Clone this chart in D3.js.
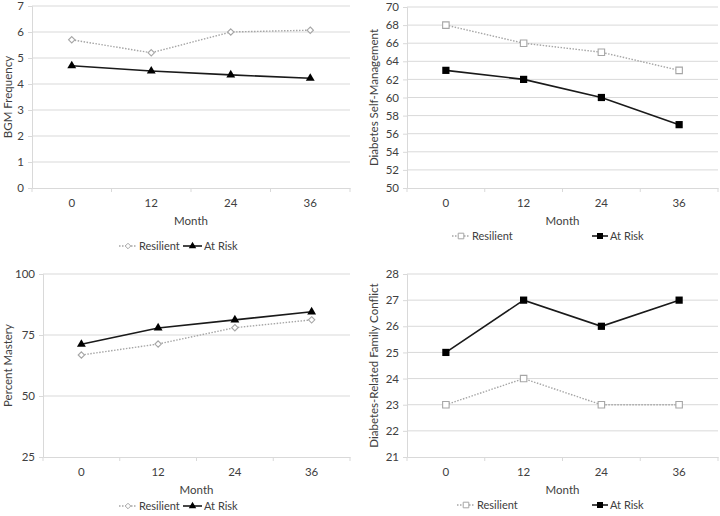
<!DOCTYPE html>
<html>
<head>
<meta charset="utf-8">
<script src="https://cdn.jsdelivr.net/npm/d3@7"></script>
<style>
html,body{margin:0;padding:0;background:#fff;}
svg{display:block;font-family:Lato, "Open Sans", sans-serif;}
</style>
</head>
<body>
<svg id="chart" width="720" height="516"></svg>
<script>
const months = ["0", "12", "24", "36"];
const seriesNames = ["Resilient", "At Risk"];

// Panel 1: BGM Frequency
const bgmResilient = [5.7, 5.2, 6.0, 6.07];
const bgmAtRisk = [4.7, 4.5, 4.35, 4.22];
const bgmTicks = [0, 1, 2, 3, 4, 5, 6, 7];

// Panel 2: Diabetes Self-Management
const dsmResilient = [68, 66, 65, 63];
const dsmAtRisk = [63, 62, 60, 57];
const dsmTicks = [50, 52, 54, 56, 58, 60, 62, 64, 66, 68, 70];

// Panel 3: Percent Mastery
const pmResilient = [66.8, 71.3, 78, 81.2];
const pmAtRisk = [71.2, 77.9, 81.2, 84.5];
const pmTicks = [25, 50, 75, 100];

// Panel 4: Diabetes-Related Family Conflict
const fcResilient = [23, 24, 23, 23];
const fcAtRisk = [25, 27, 26, 27];
const fcTicks = [21, 22, 23, 24, 25, 26, 27, 28];

const svg = d3.select("#chart");
const textColor = "#404040";
const gridColor = "#d9d9d9";
const fs = 11;

function drawPanel(cfg) {
  const g = svg.append("g");
  const x = d3.scaleBand().domain(months).range([cfg.left, cfg.right]);
  const y = d3.scaleLinear().domain([cfg.ticks[0], cfg.ticks[cfg.ticks.length - 1]]).range([cfg.bottom, cfg.top]);

  // gridlines
  g.selectAll("line.grid").data(cfg.ticks.slice(1)).enter().append("line")
    .attr("x1", cfg.left).attr("x2", cfg.right)
    .attr("y1", d => y(d)).attr("y2", d => y(d))
    .attr("stroke", gridColor).attr("stroke-width", 1);

  // y axis
  const yAxis = d3.axisLeft(y).tickValues(cfg.ticks).tickSize(4).tickFormat(d3.format("d"));
  const ya = g.append("g").attr("transform", `translate(${cfg.left},0)`).call(yAxis);
  ya.select(".domain").attr("stroke", gridColor);
  ya.selectAll(".tick line").attr("stroke", gridColor);
  ya.selectAll(".tick text").attr("fill", textColor).attr("font-size", fs + 0.5).attr("font-family", "Lato").attr("x", -cfg.tickPad);

  // x axis
  const xAxis = d3.axisBottom(x).tickSize(0).tickPadding(11);
  const xa = g.append("g").attr("transform", `translate(0,${cfg.bottom})`).call(xAxis);
  xa.select(".domain").attr("stroke", gridColor);
  xa.selectAll(".tick text").attr("fill", textColor).attr("font-size", fs + 0.5).attr("font-family", "Lato");
  // band boundary ticks
  const bounds = months.map(m => x(m)).concat([cfg.right]);
  xa.selectAll("line.bt").data(bounds).enter().append("line")
    .attr("x1", d => d).attr("x2", d => d).attr("y1", 0).attr("y2", 4)
    .attr("stroke", gridColor);

  // axis titles
  g.append("text").attr("x", (cfg.left + cfg.right) / 2).attr("y", cfg.bottom + 37)
    .attr("text-anchor", "middle").attr("fill", textColor).attr("font-size", fs + 0.5).text("Month");
  g.append("text").attr("transform", `translate(${cfg.ytitleX},${(cfg.top + cfg.bottom) / 2}) rotate(-90)`)
    .attr("text-anchor", "middle").attr("fill", textColor).attr("font-size", fs + 0.5).text(cfg.title);

  const line = d3.line().x((d, i) => x(months[i]) + x.bandwidth() / 2).y(d => y(d));

  // resilient line
  g.append("path").datum(cfg.res).attr("d", line).attr("fill", "none")
    .attr("stroke", "#a6a6a6").attr("stroke-width", 1.4).attr("stroke-dasharray", "1.5,1.5");
  // at risk line
  g.append("path").datum(cfg.risk).attr("d", line).attr("fill", "none")
    .attr("stroke", "#1a1a1a").attr("stroke-width", 1.6);

  const sq = cfg.shape === "square";
  const resSym = sq ? d3.symbolSquare : d3.symbolDiamond2;
  const riskSym = sq ? d3.symbolSquare : d3.symbolTriangle;
  const resSize = sq ? 42 : 26;
  const riskSize = sq ? 52 : 34;

  g.selectAll("path.rm").data(cfg.res).enter().append("path")
    .attr("d", d3.symbol().type(resSym).size(resSize))
    .attr("transform", (d, i) => `translate(${x(months[i]) + x.bandwidth() / 2},${y(d)})`)
    .attr("fill", "#fff").attr("stroke", "#a6a6a6").attr("stroke-width", 1.1);
  g.selectAll("path.km").data(cfg.risk).enter().append("path")
    .attr("d", d3.symbol().type(riskSym).size(riskSize))
    .attr("transform", (d, i) => `translate(${x(months[i]) + x.bandwidth() / 2},${y(d)})`)
    .attr("fill", "#000");

  // legend
  const ly = cfg.legendY;
  const L = cfg.legend;
  g.append("line").attr("x1", L[0]).attr("x2", L[1]).attr("y1", ly).attr("y2", ly)
    .attr("stroke", "#a6a6a6").attr("stroke-width", 1.4).attr("stroke-dasharray", "1.5,1.5");
  g.append("path").attr("d", d3.symbol().type(resSym).size(resSize * 0.75)())
    .attr("transform", `translate(${(L[0] + L[1]) / 2},${ly})`)
    .attr("fill", "#fff").attr("stroke", "#a6a6a6").attr("stroke-width", 1);
  g.append("text").attr("x", L[1] + 2).attr("y", ly).attr("dy", "0.35em")
    .attr("fill", textColor).attr("font-size", fs).text(seriesNames[0]);
  g.append("line").attr("x1", L[2]).attr("x2", L[3]).attr("y1", ly).attr("y2", ly)
    .attr("stroke", "#1a1a1a").attr("stroke-width", 1.6);
  g.append("path").attr("d", d3.symbol().type(riskSym).size(riskSize * 0.7)())
    .attr("transform", `translate(${(L[2] + L[3]) / 2},${ly})`).attr("fill", "#000");
  g.append("text").attr("x", L[3] + 2).attr("y", ly).attr("dy", "0.35em")
    .attr("fill", textColor).attr("font-size", fs).text(seriesNames[1]);
}

drawPanel({left: 32, right: 350, top: 6, bottom: 188, ticks: bgmTicks, res: bgmResilient, risk: bgmAtRisk,
  shape: "tri", title: "BGM Frequency", ytitleX: 12, tickPad: 8, legendY: 246, legend: [119, 137, 183, 202]});
drawPanel({left: 407, right: 718, top: 7, bottom: 188, ticks: dsmTicks, res: dsmResilient, risk: dsmAtRisk,
  shape: "square", title: "Diabetes Self-Management", ytitleX: 378, tickPad: 8, legendY: 236, legend: [452, 470, 592, 608]});
drawPanel({left: 43, right: 350, top: 274, bottom: 457, ticks: pmTicks, res: pmResilient, risk: pmAtRisk,
  shape: "tri", title: "Percent Mastery", ytitleX: 12, tickPad: 8, legendY: 506, legend: [119, 137, 183, 202]});
drawPanel({left: 407, right: 718, top: 274, bottom: 457, ticks: fcTicks, res: fcResilient, risk: fcAtRisk,
  shape: "square", title: "Diabetes-Related Family Conflict", ytitleX: 378, tickPad: 8, legendY: 505, legend: [457, 475, 592, 608]});
</script>
</body>
</html>
